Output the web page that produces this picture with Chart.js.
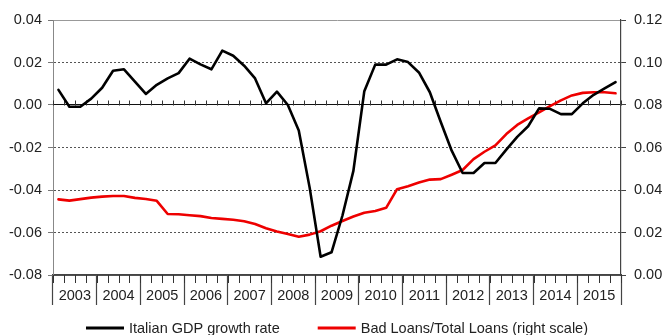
<!DOCTYPE html>
<html lang="en">
<head>
  <meta charset="UTF-8" />
  <title>GDP growth and bad loans</title>
  <style>
    html, body { margin: 0; padding: 0; background: #fff; }
    #wrap { width: 665px; height: 335px; }
  </style>
</head>
<body>
  <div id="wrap">
    <canvas id="myChart"></canvas>
  </div>

  <script src="https://cdn.jsdelivr.net/npm/chart.js"></script>

  <script>
    // years on the bottom axis, data is quarterly (4 points per year)
    const years = ['2003', '2004', '2005', '2006', '2007', '2008', '2009',
                   '2010', '2011', '2012', '2013', '2014', '2015'];

    // Italian GDP growth rate (left scale)
    const gdpGrowth = [
      0.0071, -0.0008, -0.0008, 0.0030,
      0.0081, 0.0161, 0.0168, 0.0110,
      0.0052, 0.0095, 0.0125, 0.0150,
      0.0218, 0.0191, 0.0168, 0.0256,
      0.0232, 0.0185, 0.0125, 0.0008,
      0.0063, 0.0000, -0.0120, -0.0390,
      -0.0714, -0.0693, -0.0520, -0.0310,
      0.0065, 0.0190, 0.0190, 0.0215,
      0.0202, 0.0153, 0.0060, -0.0080,
      -0.0215, -0.0320, -0.0320, -0.0273,
      -0.0273, -0.0210, -0.0150, -0.0100,
      -0.0016, -0.0018, -0.0043, -0.0043,
      0.0008, 0.0048, 0.0078, 0.0108
    ];

    // bad loans / total loans (right scale)
    const badLoans = [
      0.0356, 0.0350, 0.0357, 0.0364,
      0.0369, 0.0372, 0.0372, 0.0363,
      0.0358, 0.0349, 0.0287, 0.0286,
      0.0281, 0.0277, 0.0268, 0.0264,
      0.0260, 0.0253, 0.0240, 0.0220,
      0.0205, 0.0193, 0.0180, 0.0190,
      0.0206, 0.0232, 0.0254, 0.0275,
      0.0293, 0.0301, 0.0316, 0.0404,
      0.0418, 0.0435, 0.0449, 0.0451,
      0.0472, 0.0494, 0.0545, 0.0580,
      0.0610, 0.0663, 0.0706, 0.0737,
      0.0765, 0.0795, 0.0822, 0.0845,
      0.0857, 0.0860, 0.0860, 0.0855
    ];

    const quarters = [];
    years.forEach((yr) => {
      for (let q = 1; q <= 4; q++) quarters.push(yr + 'Q' + q);
    });

    const FONT = { family: '"Liberation Sans", Arial, sans-serif', size: 14.5 };
    const TEXT = '#222';

    function fmt(v) {
      return Math.abs(v) < 1e-9 ? '0.00' : v.toFixed(2);
    }

    // small quarter ticks on the zero line and on the bottom axis
    const quarterTicks = {
      id: 'quarterTicks',
      beforeDatasetsDraw(chart) {
        const { ctx, chartArea, scales: { x, y } } = chart;
        const half = (x.getPixelForValue(1) - x.getPixelForValue(0)) / 2;
        const y0 = Math.round(y.getPixelForValue(0)) + 0.5;
        const yb = chartArea.bottom;
        ctx.save();
        ctx.strokeStyle = '#333';
        ctx.lineWidth = 1;
        ctx.beginPath();
        for (let k = 0; k <= quarters.length; k++) {
          const px = Math.round(x.getPixelForValue(k) - half) + 0.5;
          ctx.moveTo(px, y0);
          ctx.lineTo(px, y0 - 5);
          ctx.moveTo(px, yb);
          ctx.lineTo(px, yb + 8);
        }
        ctx.stroke();
        ctx.restore();
      }
    };

    // legend row under the axis: line sample + label
    const bottomLegend = {
      id: 'bottomLegend',
      afterDraw(chart) {
        const { ctx, chartArea } = chart;
        const sample = 38, gap = 5, spacing = 38;
        ctx.save();
        ctx.font = FONT.size + 'px ' + FONT.family;
        ctx.textBaseline = 'middle';
        const items = chart.data.datasets.map((ds) => ({
          text: ds.label, color: ds.borderColor, w: ctx.measureText(ds.label).width
        }));
        const total = items.reduce((s, it) => s + sample + gap + it.w, 0) + spacing * (items.length - 1);
        let cx = (chartArea.left + chartArea.right) / 2 - total / 2;
        const cy = chart.height - 7;
        items.forEach((it) => {
          ctx.strokeStyle = it.color;
          ctx.lineWidth = 3;
          ctx.beginPath();
          ctx.moveTo(cx, cy);
          ctx.lineTo(cx + sample, cy);
          ctx.stroke();
          ctx.fillStyle = TEXT;
          ctx.fillText(it.text, cx + sample + gap, cy + 1);
          cx += sample + gap + it.w + spacing;
        });
        ctx.restore();
      }
    };

    const data = {
      labels: quarters,
      datasets: [
        {
          label: 'Italian GDP growth rate',
          data: gdpGrowth,
          borderColor: '#000000',
          backgroundColor: '#000000',
          borderWidth: 2.6,
          yAxisID: 'y',
          xAxisID: 'x'
        },
        {
          label: 'Bad Loans/Total Loans (right scale)',
          data: badLoans,
          borderColor: '#ee0000',
          backgroundColor: '#ee0000',
          borderWidth: 2.6,
          yAxisID: 'y1',
          xAxisID: 'x'
        }
      ]
    };

    const context = document.getElementById('myChart').getContext('2d');
    const myChart = new Chart(context, {
      type: 'line',
      data: data,
      plugins: [quarterTicks, bottomLegend],
      options: {
        responsive: true,
        maintainAspectRatio: false,
        animation: false,
        layout: { padding: { top: 20, left: 0, right: 0, bottom: 0 } },
        elements: {
          point: { radius: 0 },
          line: { tension: 0, borderJoinStyle: 'round', borderCapStyle: 'round' }
        },
        plugins: {
          legend: { display: false },
          tooltip: { enabled: false }
        },
        scales: {
          x: {
            type: 'category',
            display: false,
            offset: true
          },
          years: {
            type: 'category',
            labels: years,
            position: 'bottom',
            offset: true,
            afterFit: (scale) => { scale.height = 60; },
            grid: {
              offset: true,
              drawOnChartArea: false,
              drawTicks: true,
              tickLength: 30,
              tickColor: '#444',
              tickWidth: 1.2
            },
            border: { display: true, color: '#444', width: 1.2 },
            ticks: {
              padding: -18,
              maxRotation: 0,
              autoSkip: false,
              color: TEXT,
              font: FONT
            }
          },
          y: {
            position: 'left',
            min: -0.08,
            max: 0.04,
            afterFit: (scale) => { scale.width = 53; },
            ticks: {
              stepSize: 0.02,
              padding: 6,
              color: TEXT,
              font: FONT,
              callback: (v) => fmt(v)
            },
            grid: {
              color: (ctx) => {
                if (!ctx.tick) return '#666';
                const v = ctx.tick.value;
                if (Math.abs(v) < 1e-9) return '#111';
                if (Math.abs(v - 0.04) < 1e-9) return '#999';
                return '#555';
              },
              lineWidth: 1,
              tickLength: 5,
              tickColor: '#777'
            },
            border: {
              display: true,
              color: '#888',
              width: 1,
              dash: (ctx) => {
                if (!ctx.tick) return [];
                const v = ctx.tick.value;
                if (Math.abs(v) < 1e-9 || Math.abs(v - 0.04) < 1e-9 || Math.abs(v + 0.08) < 1e-9) return [];
                return [2, 2];
              }
            }
          },
          y1: {
            position: 'right',
            min: 0,
            max: 0.12,
            afterFit: (scale) => { scale.width = 44; },
            ticks: {
              stepSize: 0.02,
              padding: 8,
              color: TEXT,
              font: FONT,
              callback: (v) => fmt(v)
            },
            grid: {
              drawOnChartArea: false,
              tickLength: 5,
              tickColor: '#444'
            },
            border: { display: true, color: '#444', width: 1.2 }
          }
        }
      }
    });
  </script>
</body>
</html>
